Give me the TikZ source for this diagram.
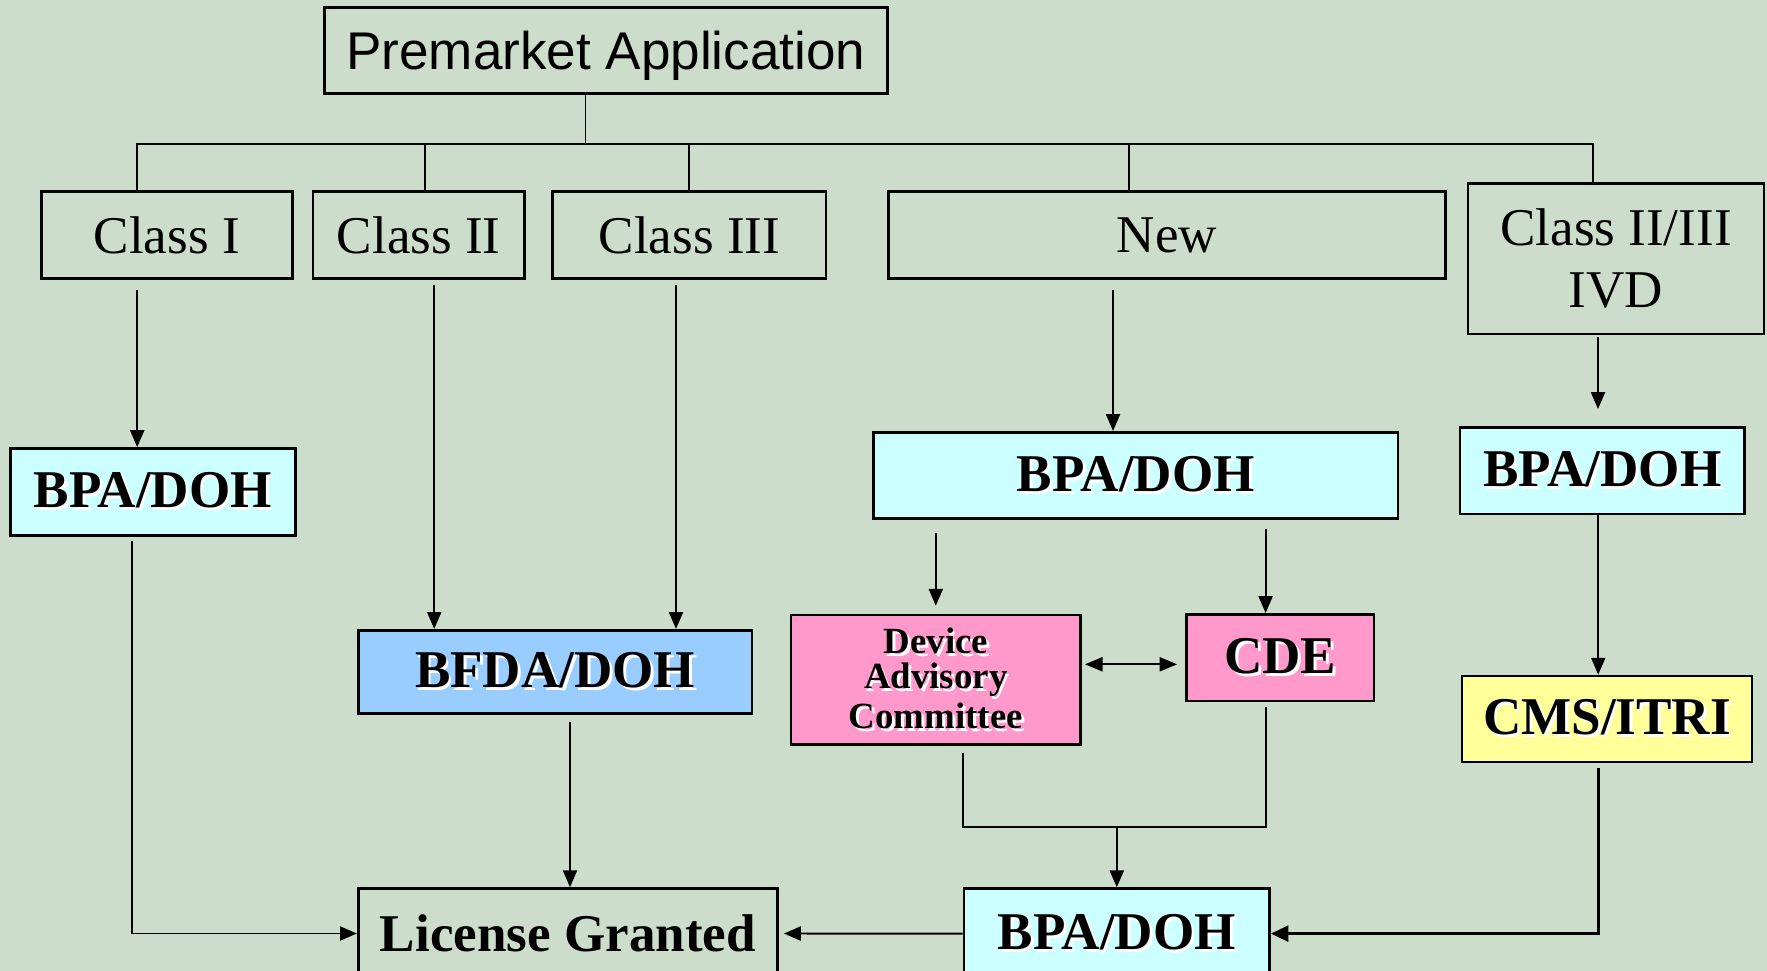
\documentclass[tikz,border=0pt]{standalone}
\usepackage{fontspec}
\setmainfont{Liberation Serif}
\newfontfamily\arialfont{Liberation Sans}
\usetikzlibrary{arrows.meta}
\definecolor{tfdabg}{RGB}{204,221,204}
\definecolor{tfdacyan}{RGB}{204,255,255}
\definecolor{tfdablue}{RGB}{153,204,255}
\definecolor{tfdapink}{RGB}{255,153,204}
\definecolor{tfdayellow}{RGB}{255,255,153}
\newcommand{\shadowed}[1]{\makebox[0pt][l]{\kern0.8pt\raisebox{-0.8pt}{\color{white}#1}}#1}
\tikzset{
  plainbox/.style={rectangle, draw=black, line width=0.75pt, inner sep=0pt, align=center, font=\fontsize{15.1}{17.6}\selectfont},
  agencybox/.style={plainbox, font=\fontsize{15.1}{17.6}\selectfont\bfseries},
  conn/.style={line width=0.55pt},
  arr/.style={conn, -{Triangle[length=4.8pt,width=4pt]}},
}

\begin{document}
\begin{tikzpicture}[x=1cm,y=1cm]
    \useasboundingbox (0,0) rectangle (17.67,-9.71);
    \fill[tfdabg] (0,0) rectangle (17.67,-9.71);

    % Application node
    \node[plainbox, font=\arialfont\fontsize{15.1}{17.6}\selectfont, text depth=0pt, minimum width=5.63cm, minimum height=0.86cm] (premarket) at (6.058,-0.507) {Premarket Application};

    % Device classes
    \node[plainbox, minimum width=2.51cm, minimum height=0.866cm] (classI) at (1.667,-2.35) {Class I};
    \node[plainbox, minimum width=2.118cm, minimum height=0.866cm] (classII) at (4.188,-2.35) {Class II};
    \node[plainbox, minimum width=2.732cm, minimum height=0.866cm] (classIII) at (6.894,-2.35) {Class III};
    \node[plainbox, minimum width=5.567cm, minimum height=0.866cm] (new) at (11.67,-2.35) {New};
    \node[plainbox, minimum width=2.96cm, minimum height=1.507cm] (ivd) at (16.16,-2.587) {Class II/III\\IVD};

    % Review bodies
    \node[agencybox, fill=tfdacyan, minimum width=2.852cm, minimum height=0.874cm] (bpaleft) at (1.528,-4.921) {\shadowed{BPA/DOH}};
    \node[agencybox, fill=tfdablue, minimum width=3.938cm, minimum height=0.833cm] (bfda) at (5.551,-6.719) {\shadowed{BFDA/DOH}};
    \node[agencybox, fill=tfdacyan, minimum width=5.246cm, minimum height=0.86cm] (bpamid) at (11.357,-4.753) {\shadowed{BPA/DOH}};
    \node[agencybox, fill=tfdapink, font=\fontsize{10.5}{10}\selectfont\bfseries, minimum width=2.898cm, minimum height=1.293cm] (device) at (9.358,-6.797) {\shadowed{Device}\\\shadowed{Advisory}\\\shadowed{Committee}};
    \node[agencybox, fill=tfdapink, minimum width=1.875cm, minimum height=0.867cm] (cde) at (12.802,-6.577) {\shadowed{CDE}};
    \node[agencybox, fill=tfdacyan, minimum width=2.847cm, minimum height=0.867cm] (bparight) at (16.024,-4.707) {\shadowed{BPA/DOH}};
    \node[agencybox, fill=tfdayellow, minimum width=2.9cm, minimum height=0.86cm] (cms) at (16.07,-7.19) {\shadowed{CMS/ITRI}};
    \node[agencybox, fill=tfdacyan, minimum width=3.055cm, minimum height=0.9cm, anchor=north] (bpabot) at (11.168,-8.873) {\shadowed{BPA/DOH}};
    \node[agencybox, minimum width=4.194cm, minimum height=0.9cm, anchor=north] (license) at (5.679,-8.872) {License Granted};

    % Bus
    \coordinate (bus) at (5.855,-1.443);
    \draw[conn] (premarket.south -| bus) -- (bus);
    \draw[conn] ([xshift=-3.01mm]classI.north) |- (bus);
    \draw[conn] ([xshift=0.66mm]classII.north) |- (bus);
    \draw[conn] (classIII.north) |- (bus);
    \draw[conn] ([xshift=-3.8mm]new.north) |- (bus);
    \draw[conn] ([xshift=-2.27mm]ivd.north) |- (bus);

    % Connections
    \draw[arr, shorten <=1mm] ([xshift=-2.95mm]classI.south) -- ([xshift=-2.95mm]classI.south |- bpaleft.north);
    \draw[arr, shorten <=0.4mm] ([xshift=-2.12mm]bpaleft.south) |- (license.west);
    \draw[arr, shorten <=0.5mm] ([xshift=1.54mm]classII.south) -- ([xshift=1.54mm]classII.south |- bfda.north);
    \draw[arr, shorten <=0.5mm] ([xshift=-1.34mm]classIII.south) -- ([xshift=-1.34mm]classIII.south |- bfda.north);
    \draw[arr, shorten <=0.7mm] ([xshift=1.49mm]bfda.south) -- ([xshift=1.49mm]bfda.south |- license.north);
    \draw[arr, shorten <=1mm] ([xshift=-5.4mm]new.south) -- ([xshift=-5.4mm]new.south |- bpamid.north);
    \draw[arr, shorten <=1.3mm, shorten >=0.8mm] (bpamid.south -| device.north) -- (device.north);
    \draw[arr, shorten <=0.9mm] ([xshift=-1.46mm]cde.north |- bpamid.south) -- ([xshift=-1.46mm]cde.north);
    \draw[conn, line width=0.6pt, {Triangle[length=5pt,width=4pt]}-{Triangle[length=5pt,width=4pt]}, shorten <=0.3mm, shorten >=0.8mm] ([yshift=1.54mm]device.east) -- ([yshift=1.54mm]device.east -| cde.west);
    \coordinate (merge) at (11.168,-8.273);
    \draw[conn, shorten <=0.7mm] ([xshift=2.76mm]device.south) |- (merge);
    \draw[conn, shorten <=0.5mm] ([xshift=-1.46mm]cde.south) |- (merge);
    \draw[arr] (merge) -- (bpabot.north);
    \draw[arr, shorten >=0.5mm] (bpabot.west) -- (license.east);
    \draw[arr, shorten <=0.2mm, shorten >=1.7mm] ([xshift=-1.8mm]ivd.south) -- ([xshift=-1.8mm]ivd.south |- bparight.north);
    \draw[arr] ([xshift=-0.42mm]bparight.south) -- ([xshift=-0.42mm]bparight.south |- cms.north);
    \draw[line width=0.9pt, -{Triangle[length=5pt,width=4.5pt]}, shorten <=0.5mm] ([xshift=-0.88mm]cms.south) |- (bpabot.east);
\end{tikzpicture}
\end{document}
